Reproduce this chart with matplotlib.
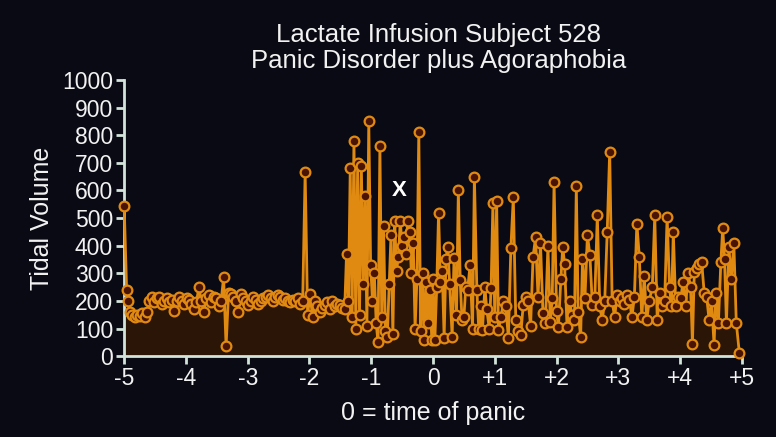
import matplotlib.pyplot as plt

# minutes relative to onset of panic, tidal volume per breath
minutes = [
    -5.00, -4.96, -4.93, -4.90, -4.87, -4.83, -4.79, -4.75, -4.71, -4.67,
    -4.63, -4.59, -4.55, -4.51, -4.47, -4.43, -4.39, -4.35, -4.31, -4.27,
    -4.23, -4.19, -4.15, -4.11, -4.07, -4.03, -3.99, -3.95, -3.91, -3.87,
    -3.83, -3.79, -3.75, -3.71, -3.67, -3.63, -3.59, -3.55, -3.51, -3.47,
    -3.43, -3.39, -3.35, -3.31, -3.27, -3.23, -3.19, -3.15, -3.11, -3.07,
    -3.03, -2.99, -2.95, -2.91, -2.87, -2.83, -2.79, -2.75, -2.71, -2.67,
    -2.63, -2.59, -2.55, -2.51, -2.47, -2.43, -2.39, -2.35, -2.31, -2.27,
    -2.23, -2.19, -2.15, -2.11, -2.07, -2.03, -1.99, -1.95, -1.91, -1.87,
    -1.83, -1.79, -1.75, -1.71, -1.67, -1.63, -1.59, -1.55, -1.51, -1.47,
    -1.43, -1.40, -1.37, -1.34, -1.31, -1.28, -1.25, -1.22, -1.19, -1.16,
    -1.13, -1.10, -1.07, -1.04, -1.01, -0.98, -0.95, -0.92, -0.89, -0.86,
    -0.83, -0.80, -0.77, -0.74, -0.71, -0.68, -0.65, -0.62, -0.59, -0.56,
    -0.53, -0.50, -0.47, -0.44, -0.41, -0.38, -0.35, -0.32, -0.29, -0.26,
    -0.23, -0.20, -0.17, -0.14, -0.11, -0.08, -0.05, -0.02, 0.00, 0.03,
    0.06, 0.09, 0.12, 0.15, 0.18, 0.21, 0.24, 0.27, 0.31, 0.34,
    0.38, 0.41, 0.44, 0.47, 0.50, 0.53, 0.56, 0.60, 0.64, 0.67,
    0.71, 0.74, 0.77, 0.80, 0.84, 0.87, 0.91, 0.94, 0.97, 1.00,
    1.03, 1.06, 1.10, 1.14, 1.18, 1.22, 1.26, 1.30, 1.34, 1.38,
    1.42, 1.46, 1.50, 1.54, 1.58, 1.62, 1.66, 1.70, 1.74, 1.78,
    1.82, 1.86, 1.90, 1.93, 1.96, 2.00, 2.03, 2.07, 2.10, 2.13,
    2.17, 2.21, 2.25, 2.29, 2.32, 2.35, 2.39, 2.42, 2.46, 2.50,
    2.54, 2.58, 2.62, 2.66, 2.70, 2.74, 2.78, 2.82, 2.86, 2.90,
    2.94, 2.98, 3.02, 3.06, 3.10, 3.14, 3.18, 3.22, 3.26, 3.30,
    3.34, 3.38, 3.42, 3.46, 3.50, 3.55, 3.59, 3.63, 3.67, 3.71,
    3.75, 3.79, 3.83, 3.86, 3.89, 3.93, 3.97, 4.01, 4.05, 4.09,
    4.13, 4.17, 4.20, 4.23, 4.27, 4.31, 4.35, 4.39, 4.43, 4.47,
    4.51, 4.55, 4.58, 4.62, 4.66, 4.69, 4.72, 4.75, 4.79, 4.83,
    4.87, 4.91, 4.96,
]
tidal_volume = [
    545, 240, 200, 160, 150, 140, 150, 145, 155, 140,
    160, 200, 215, 195, 210, 215, 190, 200, 210, 195,
    205, 165, 200, 215, 200, 190, 210, 205, 190, 170,
    195, 250, 200, 160, 210, 220, 195, 215, 210, 180,
    200, 285, 35, 230, 225, 215, 200, 160, 225, 210,
    200, 185, 200, 215, 205, 190, 200, 210, 215, 220,
    210, 200, 215, 220, 215, 205, 210, 200, 195, 205,
    200, 210, 190, 200, 665, 150, 225, 140, 200, 180,
    160, 175, 185, 195, 170, 200, 180, 190, 185, 175,
    170, 370, 200, 680, 140, 780, 100, 700, 150, 690,
    260, 580, 110, 850, 330, 200, 300, 120, 50, 760,
    140, 470, 90, 70, 260, 440, 80, 490, 310, 360,
    490, 400, 430, 370, 490, 450, 300, 410, 100, 280,
    810, 90, 300, 60, 270, 120, 240, 60, 280, 60,
    250, 520, 270, 310, 65, 350, 395, 260, 70, 355,
    150, 600, 275, 130, 140, 250, 240, 330, 100, 650,
    240, 100, 180, 95, 250, 170, 100, 245, 555, 140,
    560, 95, 140, 200, 180, 65, 390, 575, 130, 90,
    75, 185, 215, 200, 110, 360, 430, 215, 410, 155,
    120, 400, 125, 210, 630, 165, 105, 280, 395, 335,
    105, 200, 150, 130, 615, 160, 70, 350, 210, 440,
    365, 185, 215, 510, 180, 130, 200, 450, 740, 200,
    140, 220, 200, 210, 190, 220, 205, 140, 215, 480,
    360, 140, 290, 130, 200, 250, 510, 130, 230, 180,
    200, 505, 250, 180, 450, 180, 215, 210, 270, 180,
    300, 250, 45, 305, 320, 335, 340, 230, 215, 130,
    200, 40, 230, 120, 340, 465, 350, 120, 395, 280,
    410, 120, 10,
]

x_ticks = [-5, -4, -3, -2, -1, 0, 1, 2, 3, 4, 5]
x_tick_labels = ["-5", "-4", "-3", "-2", "-1", "0", "+1", "+2", "+3", "+4", "+5"]
y_ticks = list(range(0, 1001, 100))

bg = "#0a0a14"
orange = "#e08a12"
axis_col = "#d2e4da"
text_col = "#f2f2f2"

plt.rcParams["font.family"] = ["Liberation Sans", "DejaVu Sans"]

fig = plt.figure(figsize=(7.76, 4.37), dpi=100, facecolor=bg)
ax = fig.add_axes([0.160, 0.185, 0.796, 0.632])
ax.set_facecolor(bg)

ax.fill_between(minutes, tidal_volume, 0, color="#2a1506", lw=0, zorder=1)
ax.plot(minutes, tidal_volume, color=orange, lw=2, marker="o", ms=7,
        mfc="#4a1404", mec=orange, mew=1.6, zorder=3, clip_on=False)

ax.text(-0.54, 600, "X", color="white", fontsize=16, fontweight="bold",
        ha="center", va="center", zorder=4)

ax.set_xlim(-5, 5)
ax.set_ylim(0, 1000)
ax.set_xticks(x_ticks)
ax.set_xticklabels(x_tick_labels)
ax.set_yticks(y_ticks)

for side in ("top", "right"):
    ax.spines[side].set_visible(False)
for side in ("left", "bottom"):
    ax.spines[side].set_color(axis_col)
    ax.spines[side].set_linewidth(2)
ax.tick_params(colors=axis_col, labelcolor=text_col, labelsize=16.5, width=2,
               length=6, pad=2)

ax.set_xlabel("0 = time of panic", color=text_col, fontsize=18, labelpad=8)
ax.set_ylabel("Tidal Volume", color=text_col, fontsize=18, labelpad=6)

fig.text(0.565, 0.89, "Lactate Infusion Subject 528\nPanic Disorder plus Agoraphobia",
         color=text_col, fontsize=18.5, ha="center", va="center", linespacing=1.1)

fig.savefig("out.png", dpi=100, facecolor=bg)
